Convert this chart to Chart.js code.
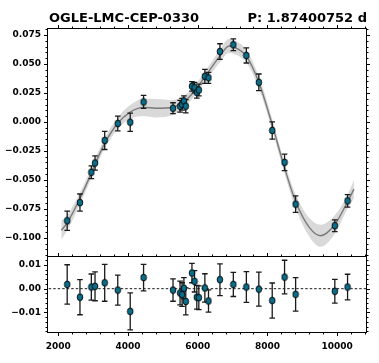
<!DOCTYPE html>
<html><head><meta charset="utf-8">
<script src="https://cdn.jsdelivr.net/npm/chart.js@4.4.1/dist/chart.umd.min.js"></script>
<style>html,body{margin:0;padding:0;background:#fff}#wrap{width:379px;height:363px;position:relative}</style>
</head><body><div id="wrap"><canvas id="c" width="379" height="363"></canvas></div>
<script>
const titleLeft = 'OGLE-LMC-CEP-0330';
const titleRight = 'P: 1.87400752 d';

const obsX   = [2259, 2625, 2951, 3057, 3334, 3709, 4066, 4449, 5293, 5495, 5553, 5605, 5659, 5836, 5910, 5975, 6033, 6206, 6310, 6638, 7022, 7396, 7753, 8137, 8491, 8808, 9932, 10297];
const obsMag = [-0.0853, -0.0696, -0.0435, -0.0355, -0.016, -0.0014, -0.0003, 0.0172, 0.0118, 0.0135, 0.0152, 0.018, 0.0135, 0.0307, 0.0295, 0.0255, 0.0275, 0.0393, 0.038, 0.0607, 0.0665, 0.0573, 0.0341, -0.0074, -0.0349, -0.071, -0.0896, -0.0681];
const obsErr = [0.0083, 0.0074, 0.0055, 0.0061, 0.0078, 0.0063, 0.0078, 0.0056, 0.0047, 0.005, 0.005, 0.0045, 0.0057, 0.0041, 0.0045, 0.005, 0.005, 0.006, 0.0047, 0.0067, 0.0051, 0.0065, 0.0072, 0.0074, 0.0071, 0.0071, 0.005, 0.0054];
const obsRes = [0.0018, -0.0036, 0.0007, 0.001, 0.0025, -0.0006, -0.0096, 0.0047, -0.0006, -0.0018, -0.0025, 0.0002, -0.0054, 0.0066, 0.0031, -0.0036, -0.0038, 0.0003, -0.0052, 0.0038, 0.0018, 0.0007, -0.0002, -0.005, 0.0049, -0.0024, -0.0011, 0.0007];

const modelX   = [2090, 2259, 2625, 2951, 3057, 3334, 3709, 4066, 4449, 4800, 5293, 5495, 5659, 5836, 5975, 6206, 6310, 6638, 6900, 7022, 7396, 7753, 8137, 8491, 8808, 9200, 9520, 9932, 10297, 10480];
const modelY   = [-0.0935, -0.0871, -0.066, -0.0442, -0.0365, -0.0185, -0.0012, 0.0085, 0.0125, 0.0118, 0.0124, 0.0153, 0.0187, 0.0241, 0.0291, 0.039, 0.0432, 0.0569, 0.0655, 0.0647, 0.0566, 0.0343, -0.0024, -0.0398, -0.0686, -0.091, -0.0982, -0.0885, -0.0688, -0.058];
const modelSig = [0.008, 0.0065, 0.005, 0.0045, 0.0045, 0.0045, 0.005, 0.006, 0.0075, 0.008, 0.0065, 0.0055, 0.005, 0.0045, 0.0045, 0.0045, 0.0045, 0.0055, 0.006, 0.006, 0.0055, 0.005, 0.005, 0.005, 0.006, 0.008, 0.0095, 0.008, 0.006, 0.008];

const xTicks = [2000, 4000, 6000, 8000, 10000];
const yTicks = [-0.1, -0.075, -0.05, -0.025, 0, 0.025, 0.05, 0.075];
const rTicks = [-0.01, 0, 0.01];

const FONT = {family: 'DejaVu Sans', size: 9, weight: 'bold'};
const MARK = '#0a6e8a';

function fmt(v, d) { const s = Math.abs(v).toFixed(d); return (v < -1e-12 ? '\u2212' : '') + s; }

// ellipse marker
const mk = document.createElement('canvas');
mk.width = 8; mk.height = 9;
(function(){ const c = mk.getContext('2d'); c.beginPath(); c.ellipse(4, 4.5, 2.8, 3.4, 0, 0, Math.PI*2); c.fillStyle = MARK; c.fill(); c.lineWidth = 0.9; c.strokeStyle = '#000'; c.stroke(); })();

const pts = obsX.map((x, i) => ({x, y: obsMag[i]}));
const rpts = obsX.map((x, i) => ({x, y: obsRes[i]}));
const mline = modelX.map((x, i) => ({x, y: modelY[i]}));
const bandHi = modelX.map((x, i) => ({x, y: modelY[i] + modelSig[i]}));
const bandLo = modelX.map((x, i) => ({x, y: modelY[i] - modelSig[i]}));

const errPlugin = {
  id: 'err',
  beforeDatasetDraw(chart, args) {
    const ds = chart.data.datasets[args.index];
    if (!ds.errKey) return;
    const xs = chart.scales.x, ys = chart.scales[ds.yAxisID];
    const ctx = chart.ctx;
    ctx.save();
    ctx.strokeStyle = '#1a1a1a'; ctx.lineWidth = 1.3;
    ds.data.forEach((p, i) => {
      const e = obsErr[i];
      const px = xs.getPixelForValue(p.x);
      const y1 = ys.getPixelForValue(p.y + e), y2 = ys.getPixelForValue(p.y - e);
      ctx.beginPath();
      ctx.moveTo(px, y1); ctx.lineTo(px, y2);
      ctx.moveTo(px - 2.8, y1); ctx.lineTo(px + 2.8, y1);
      ctx.moveTo(px - 2.8, y2); ctx.lineTo(px + 2.8, y2);
      ctx.stroke();
    });
    ctx.restore();
  }
};

const framePlugin = {
  id: 'frame',
  afterDraw(chart) {
    const ctx = chart.ctx, xs = chart.scales.x, ys = chart.scales.y, rs = chart.scales.y2;
    const L = Math.floor(xs.left) + 0.5, R = Math.floor(xs.right) + 0.5;
    const T = Math.floor(ys.top) + 0.5, M = Math.floor(ys.bottom) + 0.5, B = Math.floor(rs.bottom) + 0.5;
    ctx.save();
    ctx.strokeStyle = '#000'; ctx.lineWidth = 1;
    ctx.strokeRect(L, T, R - L, M - T);
    ctx.strokeRect(L, M, R - L, B - M);
    const MAJ = 3.5, MIN = 2;
    ctx.beginPath();
    for (let k = Math.ceil(xs.min / 400); k <= Math.floor(xs.max / 400); k++) {
      const v = k * 400, len = (k % 5 === 0) ? MAJ : MIN;
      const px = Math.round(xs.getPixelForValue(v)) + 0.5;
      ctx.moveTo(px, T); ctx.lineTo(px, T - len);
      ctx.moveTo(px, M); ctx.lineTo(px, M - len);
      ctx.moveTo(px, B); ctx.lineTo(px, B + len);
    }
    for (let k = Math.ceil(ys.min / 0.005 - 1e-6); k <= Math.floor(ys.max / 0.005 + 1e-6); k++) {
      const len = (k % 5 === 0) ? MAJ : MIN;
      const py = Math.round(ys.getPixelForValue(k * 0.005)) + 0.5;
      ctx.moveTo(L, py); ctx.lineTo(L - len, py);
      ctx.moveTo(R, py); ctx.lineTo(R + len, py);
    }
    for (let k = Math.ceil(rs.min / 0.002 - 1e-6); k <= Math.floor(rs.max / 0.002 + 1e-6); k++) {
      const len = (k % 5 === 0) ? MAJ : MIN;
      const py = Math.round(rs.getPixelForValue(k * 0.002)) + 0.5;
      ctx.moveTo(L, py); ctx.lineTo(L - len, py);
      ctx.moveTo(R, py); ctx.lineTo(R + len, py);
    }
    ctx.stroke();
    ctx.fillStyle = '#000';
    ctx.font = 'bold 13px "DejaVu Sans"';
    ctx.textBaseline = 'alphabetic';
    ctx.textAlign = 'left';
    ctx.fillText(titleLeft, 49, 22);
    ctx.textAlign = 'right';
    ctx.fillText(titleRight, 367, 22);
    ctx.restore();
  }
};

new Chart(document.getElementById('c'), {
  type: 'scatter',
  data: {
    datasets: [
      {data: pts, yAxisID: 'y', errKey: true, pointStyle: mk, pointRadius: 4, showLine: false},
      {data: rpts, yAxisID: 'y2', errKey: true, pointStyle: mk, pointRadius: 4, showLine: false},
      {data: mline, yAxisID: 'y', showLine: true, borderColor: '#7a7a7a', borderWidth: 1.4, pointRadius: 0, cubicInterpolationMode: 'monotone', fill: false},
      {data: bandHi, yAxisID: 'y', showLine: true, borderWidth: 0, borderColor: 'rgba(0,0,0,0)', pointRadius: 0, cubicInterpolationMode: 'monotone', fill: false},
      {data: bandLo, yAxisID: 'y', showLine: true, borderWidth: 0, borderColor: 'rgba(0,0,0,0)', pointRadius: 0, cubicInterpolationMode: 'monotone', fill: '-1', backgroundColor: 'rgba(170,170,170,0.45)'},
      {data: [{x: 1600, y: 0}, {x: 11000, y: 0}], yAxisID: 'y2', showLine: true, borderColor: '#000', borderWidth: 0.9, borderDash: [2.5, 2], pointRadius: 0}
    ]
  },
  options: {
    responsive: false, devicePixelRatio: 1, animation: false,
    layout: {padding: {top: 28, right: 12.5, left: 0, bottom: 0}},
    plugins: {legend: {display: false}, tooltip: {enabled: false}},
    scales: {
      x: {type: 'linear', position: 'bottom', min: 1680, max: 10840,
          grid: {display: false, drawTicks: false}, border: {display: false},
          afterBuildTicks: s => { s.ticks = xTicks.map(v => ({value: v})); },
          afterFit: s => { s.height = 30.5; },
          ticks: {font: FONT, color: '#000', padding: 9, maxRotation: 0, callback: v => String(v)}},
      y2: {type: 'linear', position: 'left', stack: 'v', stackWeight: 76.5, min: -0.0185, max: 0.0138,
          grid: {display: false, drawTicks: false}, border: {display: false},
          afterBuildTicks: s => { s.ticks = rTicks.map(v => ({value: v})); },
          afterFit: s => { s.width = 47; },
          ticks: {font: FONT, color: '#000', padding: 6, callback: v => fmt(v, 2)}},
      y: {type: 'linear', position: 'left', stack: 'v', stackWeight: 228, min: -0.1157, max: 0.081,
          grid: {display: false, drawTicks: false}, border: {display: false},
          afterBuildTicks: s => { s.ticks = yTicks.map(v => ({value: v})); },
          afterFit: s => { s.width = 47; },
          ticks: {font: FONT, color: '#000', padding: 6, callback: v => fmt(v, 3)}}
    }
  },
  plugins: [errPlugin, framePlugin]
});
</script></body></html>
